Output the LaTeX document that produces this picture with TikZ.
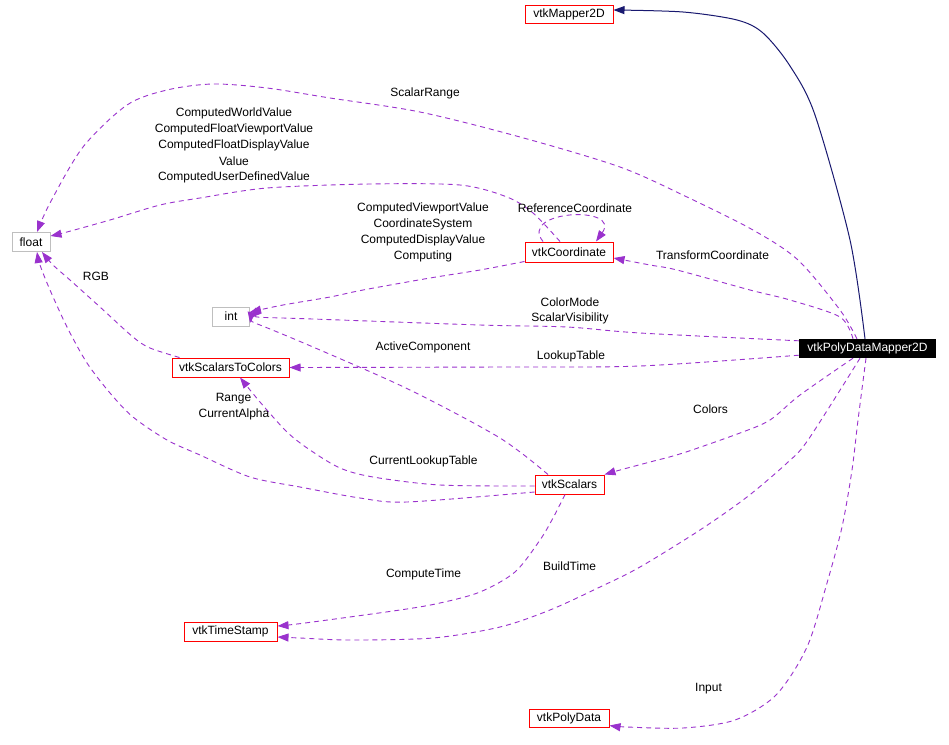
\documentclass[tikz,border=0pt]{standalone}
\usepackage{fontspec}
\setmainfont{Liberation Sans}
\usetikzlibrary{arrows.meta}
\definecolor{edgec}{HTML}{9A32CD}
\definecolor{navyc}{HTML}{191970}
\definecolor{boxred}{HTML}{FF0000}
\definecolor{boxgray}{HTML}{BFBFBF}
\begin{document}
\begin{tikzpicture}[x=1pt,y=-1pt,
  every node/.style={font=\fontsize{12}{16}\selectfont, inner sep=0pt},
  cls/.style={draw=boxred, line width=1pt, minimum height=19pt},
  prim/.style={draw=boxgray, line width=1pt, minimum height=19pt},
  mainbox/.style={fill=black, text=white, minimum height=19pt},
  rel/.style={draw=edgec, line width=0.9pt, dash pattern=on 5pt off 4pt, -{Triangle[length=11pt,width=8pt]}},
  inh/.style={draw=navyc, line width=1pt, -{Triangle[length=11pt,width=8pt]}},
  lbl/.style={align=center},
  ]
\useasboundingbox (0,0) rectangle (949,744);
\fill[white] (0,0) rectangle (949,744);

% nodes
\node[cls, minimum width=88pt, minimum height=18pt] (mapper) at (569,14) {vtkMapper2D};
\node[prim, minimum width=38pt] (float) at (31,242) {float};
\node[cls, minimum width=88pt, minimum height=20pt] (coord) at (569,252) {vtkCoordinate};
\node[prim, minimum width=37pt] (int) at (231,316.5) {int};
\node[cls, minimum width=117pt] (s2c) at (230.5,367.5) {vtkScalarsToColors};
\node[mainbox, minimum width=137pt] (pdm) at (867.5,348.5) {vtkPolyDataMapper2D};
\node[cls, minimum width=69pt] (scal) at (569.5,484.5) {vtkScalars};
\node[cls, minimum width=93pt] (ts) at (230.5,631.5) {vtkTimeStamp};
\node[cls, minimum width=80pt, minimum height=18pt] (pd) at (569,718) {vtkPolyData};

% inheritance
\draw[inh] plot[smooth] coordinates {([xshift=-2.5pt]pdm.north) (850,240) (815,115) (790,66) (763,33) (737,20) (683,12) ([yshift=4pt]mapper.east)};

% ScalarRange
\draw[rel] plot[smooth] coordinates {([xshift=-10.5pt]pdm.north) (840,310) (798,260) (753,230) (687,197) (620,167) (520,137) (420,112) (330,98) (267,88) (213,84) (167,90) (127,105) (83,147) (50,203) ([xshift=6pt]float.north)};

% TransformCoordinate
\draw[rel] plot[smooth] coordinates {([xshift=-14.5pt]pdm.north) (840,317) (790,300) (750,290) (677,270) (650,265) ([yshift=-6pt]coord.east)};

% ColorMode / ScalarVisibility
\draw[rel] plot[smooth] coordinates {([yshift=-2pt]pdm.north west) (640,333) (567,327) (480,325) (283,318) ([yshift=-1.5pt]int.east)};

% LookupTable
\draw[rel] plot[smooth] coordinates {([yshift=3pt]pdm.south west) (640,366) (500,367) (s2c.east)};

% Colors
\draw[rel] plot[smooth] coordinates {([xshift=-14.5pt]pdm.south) (800,395) (770,420) (740,433) (683,453) (650,462) (620,470) (scal.north east)};

% BuildTime
\draw[rel] plot[smooth] coordinates {([xshift=-7.5pt]pdm.south) (808,440) (787,463) (747,497) (700,530) (640,567) (600,587) (550,610) (500,627) (433,638) (350,640) (300,638) ([yshift=-5.5pt]ts.east)};

% Input
\draw[rel] plot[smooth] coordinates {([xshift=-1.5pt]pdm.south) (858,420) (852,470) (842,527) (827,583) (807,647) (776,695) (735,720) (683,728) (627,727) ([yshift=2pt]pd.south east)};

% vtkCoordinate -> float
\draw[rel] plot[smooth] coordinates {([xshift=-9pt]coord.north) (533,213) (507,197) (460,185) (370,184) (267,188) (200,198) (160,205) (110,220) (67,232) ([yshift=6pt]float.east)};

% ReferenceCoordinate (self loop)
\draw[rel] ([xshift=-26pt]coord.north) .. controls (518,210) and (622,205) .. ([xshift=27pt]coord.north);

% vtkCoordinate -> int
\draw[rel] plot[smooth] coordinates {([yshift=1pt]coord.south west) (480,270) (430,278) (363,290) (330,297) (283,305) ([yshift=4.5pt]int.east)};

% ActiveComponent
\draw[rel] plot[smooth] coordinates {([xshift=-21.5pt]scal.north) (500,438) (410,390) (320,350) (260,325) ([yshift=-6.5pt]int.east)};

% RGB
\draw[rel] plot[smooth] coordinates {([xshift=8pt]s2c.north west) (150,348) (133,337) (100,307) (70,280) (53,265) ([xshift=11pt]float.south)};

% CurrentLookupTable
\draw[rel] plot[smooth] coordinates {([yshift=-1.5pt]scal.west) (440,485) (373,477) (340,468) (310,450) (287,432) (260,402) ([xshift=9.5pt]s2c.south)};

% vtkScalars -> float (Range / CurrentAlpha)
\draw[rel] plot[smooth] coordinates {([yshift=-7.5pt]scal.west) (407,502) (360,498) (300,487) (250,477) (200,455) (167,440) (133,417) (110,393) (87,363) (67,327) (50,290) (40,265) ([xshift=6pt]float.south)};

% ComputeTime
\draw[rel] plot[smooth] coordinates {([xshift=-4.5pt]scal.south) (553,518) (540,540) (515,572) (480,592) (440,603) (400,610) (305,623) ([yshift=5.5pt]ts.east)};

% labels
\node[lbl] (lScalarRange) at (425,93) {ScalarRange};
\node[lbl] (lCW) at (234,113) {ComputedWorldValue};
\node[lbl] (lCFV) at (234,129) {ComputedFloatViewportValue};
\node[lbl] (lCFD) at (234,145.5) {ComputedFloatDisplayValue};
\node[lbl] (lVal) at (234,161.5) {Value};
\node[lbl] (lCUD) at (234,177.5) {ComputedUserDefinedValue};
\node[lbl] (lCVV) at (423,208.5) {ComputedViewportValue};
\node[lbl] (lCS) at (423,224.5) {CoordinateSystem};
\node[lbl] (lCDV) at (423,240.5) {ComputedDisplayValue};
\node[lbl] (lComp) at (423,256.5) {Computing};
\node[lbl] (lRef) at (575,208.5) {ReferenceCoordinate};
\node[lbl] (lTC) at (712.5,255) {TransformCoordinate};
\node[lbl] (lCM) at (570,302.5) {ColorMode};
\node[lbl] (lSV) at (570,318.5) {ScalarVisibility};
\node[lbl] (lLT) at (571,356) {LookupTable};
\node[lbl] (lAC) at (423,347) {ActiveComponent};
\node[lbl] (lRGB) at (96,276) {RGB};
\node[lbl] (lRange) at (233.5,398.5) {Range};
\node[lbl] (lCA) at (234,414.5) {CurrentAlpha};
\node[lbl] (lCLT) at (423.5,461) {CurrentLookupTable};
\node[lbl] (lColors) at (710.5,409) {Colors};
\node[lbl] (lCT) at (423.5,574.5) {ComputeTime};
\node[lbl] (lBT) at (569.5,566) {BuildTime};
\node[lbl] (lIn) at (708.5,689) {Input};
\end{tikzpicture}
\end{document}
